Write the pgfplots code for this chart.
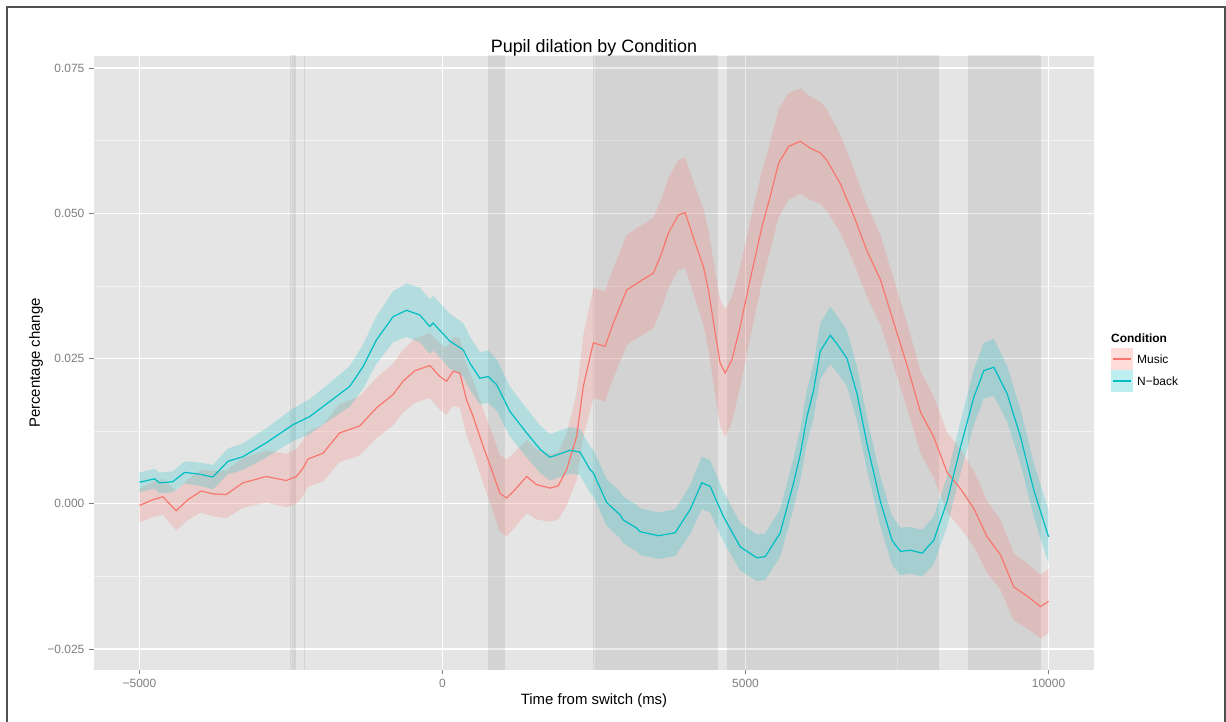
\documentclass[border=0pt]{standalone}
\usepackage{pgfplots}
\pgfplotsset{compat=1.18}
\usepackage{pgfplotstable}
\usepackage{fontspec}
\setmainfont{Liberation Sans}
\definecolor{musicc}{HTML}{F8766D}
\definecolor{nbackc}{HTML}{00BFC4}
\definecolor{gray90}{HTML}{E5E5E5}
\definecolor{gray95}{HTML}{F2F2F2}
\definecolor{gray50}{HTML}{7F7F7F}
\definecolor{framec}{HTML}{505050}

% mean lines
\pgfplotstableread{
t m
-5000 -0.0003
-4780 0.0007
-4615 0.0012
-4394 -0.0012
-4202 0.0007
-3981 0.0022
-3789 0.0017
-3568 0.0016
-3293 0.0036
-2907 0.0047
-2577 0.0040
-2411 0.0047
-2302 0.0061
-2220 0.0077
-1972 0.0087
-1696 0.0122
-1366 0.0134
-1090 0.0165
-815 0.0188
-650 0.0211
-457 0.0229
-209 0.0238
-44 0.0219
67 0.0211
176 0.0228
286 0.0225
397 0.0179
506 0.0150
671 0.0099
810 0.0059
947 0.0018
1058 0.0010
1195 0.0024
1388 0.0047
1553 0.0033
1773 0.0027
1910 0.0031
2049 0.0059
2214 0.0116
2323 0.0202
2489 0.0277
2682 0.0271
2819 0.0311
3040 0.0368
3260 0.0383
3480 0.0397
3618 0.0432
3727 0.0466
3893 0.0497
4004 0.0501
4169 0.0449
4306 0.0408
4388 0.0368
4499 0.0294
4582 0.0242
4664 0.0225
4775 0.0248
4912 0.0305
5077 0.0386
5271 0.0477
5408 0.0529
5545 0.0586
5710 0.0615
5903 0.0624
6068 0.0612
6234 0.0604
6344 0.0591
6564 0.0551
6785 0.0496
7005 0.0435
7225 0.0386
7445 0.0312
7666 0.0238
7886 0.0158
8105 0.0115
8326 0.0054
8546 0.0026
8766 -0.0008
8987 -0.0057
9207 -0.0088
9425 -0.0143
9648 -0.0159
9868 -0.0177
10000 -0.0168
}\music

\pgfplotstableread{
t m
-5000 0.0037
-4752 0.0043
-4670 0.0036
-4450 0.0038
-4257 0.0054
-4009 0.0051
-3789 0.0046
-3541 0.0073
-3293 0.0081
-2907 0.0105
-2467 0.0136
-2192 0.0150
-1861 0.0176
-1531 0.0202
-1311 0.0236
-1090 0.0282
-815 0.0322
-594 0.0333
-374 0.0325
-209 0.0305
-155 0.0311
121 0.0280
342 0.0265
452 0.0242
617 0.0216
754 0.0219
893 0.0205
1112 0.0159
1388 0.0122
1608 0.0094
1773 0.0080
1938 0.0086
2103 0.0092
2269 0.0089
2434 0.0059
2489 0.0053
2710 0.0002
2930 -0.0019
2984 -0.0028
3205 -0.0042
3260 -0.0048
3563 -0.0055
3838 -0.0050
4086 -0.0010
4279 0.0036
4416 0.0030
4636 -0.0022
4912 -0.0074
5188 -0.0093
5325 -0.0091
5573 -0.0050
5793 0.0036
5903 0.0085
6014 0.0150
6123 0.0195
6234 0.0263
6399 0.0290
6510 0.0275
6675 0.0250
6840 0.0189
7005 0.0103
7225 0.0004
7418 -0.0063
7555 -0.0082
7720 -0.0080
7914 -0.0085
8105 -0.0063
8326 0.0004
8546 0.0097
8766 0.0183
8931 0.0229
9097 0.0235
9318 0.0189
9538 0.0115
9758 0.0023
10000 -0.0057
}\nback

% ribbons: upper bound forward, then lower bound backward
\pgfplotstableread{
t v
-5000 0.0026
-4780 0.0037
-4615 0.0043
-4394 0.0022
-4202 0.0042
-3981 0.0059
-3789 0.0056
-3568 0.0057
-3293 0.0079
-2907 0.0092
-2577 0.0086
-2411 0.0094
-2302 0.0108
-2220 0.0125
-1972 0.0136
-1696 0.0172
-1366 0.0185
-1090 0.0217
-815 0.0241
-650 0.0265
-457 0.0284
-209 0.0294
-44 0.0276
67 0.0269
176 0.0287
286 0.0285
397 0.0240
506 0.0212
671 0.0163
810 0.0124
947 0.0084
1058 0.0076
1195 0.0089
1388 0.0110
1553 0.0093
1773 0.0085
1910 0.0089
2049 0.0121
2214 0.0191
2323 0.0290
2489 0.0372
2682 0.0366
2819 0.0406
3040 0.0463
3260 0.0478
3480 0.0492
3618 0.0527
3727 0.0561
3893 0.0592
4004 0.0596
4169 0.0546
4306 0.0508
4388 0.0471
4499 0.0400
4582 0.0351
4664 0.0335
4775 0.0356
4912 0.0409
5077 0.0486
5271 0.0573
5408 0.0623
5545 0.0679
5710 0.0707
5903 0.0715
6068 0.0701
6234 0.0692
6344 0.0678
6564 0.0635
6785 0.0577
7005 0.0514
7225 0.0463
7445 0.0387
7666 0.0311
7886 0.0229
8105 0.0185
8326 0.0123
8546 0.0094
8766 0.0057
8987 0.0005
9207 -0.0028
9425 -0.0085
9648 -0.0103
9868 -0.0122
10000 -0.0113
10000 -0.0223
9868 -0.0232
9648 -0.0215
9425 -0.0201
9207 -0.0148
8987 -0.0119
8766 -0.0073
8546 -0.0042
8326 -0.0015
8105 0.0045
7886 0.0087
7666 0.0165
7445 0.0237
7225 0.0309
7005 0.0356
6785 0.0415
6564 0.0467
6344 0.0504
6234 0.0516
6068 0.0523
5903 0.0533
5710 0.0523
5545 0.0493
5408 0.0435
5271 0.0381
5077 0.0286
4912 0.0201
4775 0.0140
4664 0.0115
4582 0.0133
4499 0.0188
4388 0.0265
4306 0.0308
4169 0.0352
4004 0.0406
3893 0.0402
3727 0.0371
3618 0.0337
3480 0.0302
3260 0.0288
3040 0.0273
2819 0.0216
2682 0.0176
2489 0.0182
2323 0.0114
2214 0.0041
2049 -0.0003
1910 -0.0027
1773 -0.0031
1553 -0.0027
1388 -0.0016
1195 -0.0041
1058 -0.0056
947 -0.0048
810 -0.0006
671 0.0035
506 0.0088
397 0.0118
286 0.0165
176 0.0169
67 0.0153
-44 0.0162
-209 0.0182
-457 0.0174
-650 0.0157
-815 0.0135
-1090 0.0113
-1366 0.0083
-1696 0.0072
-1972 0.0038
-2220 0.0029
-2302 0.0014
-2411 0.0000
-2577 -0.0006
-2907 0.0002
-3293 -0.0007
-3568 -0.0025
-3789 -0.0022
-3981 -0.0015
-4202 -0.0028
-4394 -0.0046
-4615 -0.0019
-4780 -0.0023
-5000 -0.0032
}\musicrib

\pgfplotstableread{
t v
-5000 0.0054
-4752 0.0060
-4670 0.0054
-4450 0.0056
-4257 0.0073
-4009 0.0071
-3789 0.0067
-3541 0.0095
-3293 0.0104
-2907 0.0130
-2467 0.0164
-2192 0.0180
-1861 0.0208
-1531 0.0237
-1311 0.0274
-1090 0.0323
-815 0.0366
-594 0.0379
-374 0.0372
-209 0.0352
-155 0.0358
121 0.0327
342 0.0311
452 0.0288
617 0.0261
754 0.0264
893 0.0249
1112 0.0202
1388 0.0164
1608 0.0135
1773 0.0120
1938 0.0126
2103 0.0132
2269 0.0129
2434 0.0099
2489 0.0093
2710 0.0042
2930 0.0021
2984 0.0012
3205 -0.0002
3260 -0.0008
3563 -0.0015
3838 -0.0010
4086 0.0032
4279 0.0081
4416 0.0075
4636 0.0021
4912 -0.0033
5188 -0.0053
5325 -0.0051
5573 -0.0009
5793 0.0079
5903 0.0130
6014 0.0196
6123 0.0242
6234 0.0311
6399 0.0339
6510 0.0324
6675 0.0298
6840 0.0236
7005 0.0148
7225 0.0047
7418 -0.0021
7555 -0.0041
7720 -0.0040
7914 -0.0045
8105 -0.0022
8326 0.0047
8546 0.0142
8766 0.0230
8931 0.0277
9097 0.0284
9318 0.0237
9538 0.0162
9758 0.0069
10000 -0.0011
10000 -0.0103
9758 -0.0023
9538 0.0068
9318 0.0141
9097 0.0186
8931 0.0181
8766 0.0136
8546 0.0052
8326 -0.0039
8105 -0.0104
7914 -0.0125
7720 -0.0120
7555 -0.0123
7418 -0.0105
7225 -0.0039
7005 0.0058
6840 0.0142
6675 0.0202
6510 0.0226
6399 0.0241
6234 0.0215
6123 0.0148
6014 0.0104
5903 0.0040
5793 -0.0007
5573 -0.0091
5325 -0.0131
5188 -0.0133
4912 -0.0115
4636 -0.0065
4416 -0.0015
4279 -0.0009
4086 -0.0052
3838 -0.0090
3563 -0.0095
3260 -0.0088
3205 -0.0082
2984 -0.0068
2930 -0.0059
2710 -0.0038
2489 0.0013
2434 0.0019
2269 0.0049
2103 0.0052
1938 0.0046
1773 0.0040
1608 0.0053
1388 0.0080
1112 0.0116
893 0.0161
754 0.0174
617 0.0171
452 0.0196
342 0.0219
121 0.0233
-155 0.0264
-209 0.0258
-374 0.0278
-594 0.0287
-815 0.0278
-1090 0.0241
-1311 0.0198
-1531 0.0167
-1861 0.0144
-2192 0.0120
-2467 0.0108
-2907 0.0080
-3293 0.0058
-3541 0.0051
-3789 0.0025
-4009 0.0031
-4257 0.0035
-4450 0.0020
-4670 0.0018
-4752 0.0026
-5000 0.0020
}\nbackrib

\begin{document}
\begin{tikzpicture}
\fill[white] (0bp,0bp) rectangle (1226bp,722bp);
\useasboundingbox (0bp,0bp) rectangle (1226bp,722bp);
\draw[framec, line width=2bp] (7bp,0bp) -- (7bp,715bp) -- (1225bp,715bp) -- (1225bp,0bp);
\begin{axis}[
  at={(94bp,52bp)}, anchor=south west,
  scale only axis, width=1000bp, height=614bp,
  xmin=-5750, xmax=10750, ymin=-0.02861, ymax=0.07707,
  scaled x ticks=false, scaled y ticks=false,
  axis background/.style={fill=gray90},
  axis line style={draw=none},
  tick align=outside, tick pos=left,
  major tick length=4.5bp, minor tick length=0pt,
  tick style={gray50, line width=1bp},
  xtick={-5000,0,5000,10000},
  xticklabels={−5000,0,5000,10000},
  ytick={-0.025,0,0.025,0.05,0.075},
  yticklabels={−0.025,0.000,0.025,0.050,0.075},
  minor xtick={-2500,2500,7500},
  minor ytick={-0.0125,0.0125,0.0375,0.0625},
  grid=both,
  major grid style={white, line width=1.1bp},
  minor grid style={gray95, line width=0.6bp},
  ticklabel style={font=\fontsize{12}{12}\selectfont, text=gray50},
  yticklabel style={anchor=east, inner sep=0pt, xshift=-5bp},
  xticklabel style={anchor=north, inner sep=0pt, yshift=-4.5bp},
  title={Pupil dilation by Condition},
  title style={font=\fontsize{18}{18}\selectfont, at={(axis description cs:0.5,1)}, anchor=base, yshift=-2bp},
  xlabel={Time from switch (ms)},
  xlabel style={font=\fontsize{15}{15}\selectfont, at={(axis description cs:0.5,0)}, anchor=base, yshift=-34.5bp},
  ylabel={Percentage change},
  ylabel style={font=\fontsize{15}{15}\selectfont, at={(axis description cs:-0.058,0.5)}, anchor=center},
]
% shaded clusters
\addplot[draw=none, fill=black, fill opacity=0.08] coordinates {(-2522,-0.03) (-2522,0.08) (-2423,0.08) (-2423,-0.03)};
\addplot[draw=none, fill=black, fill opacity=0.08] coordinates {(-2291,-0.03) (-2291,0.08) (-2265,0.08) (-2265,-0.03)};
\addplot[draw=none, fill=black, fill opacity=0.08] coordinates {(745,-0.03) (745,0.08) (1027,0.08) (1027,-0.03)};
\addplot[draw=none, fill=black, fill opacity=0.08] coordinates {(2478,-0.03) (2478,0.08) (4543,0.08) (4543,-0.03)};
\addplot[draw=none, fill=black, fill opacity=0.08] coordinates {(4691,-0.03) (4691,0.08) (8193,0.08) (8193,-0.03)};
\addplot[draw=none, fill=black, fill opacity=0.08] coordinates {(8672,-0.03) (8672,0.08) (9878,0.08) (9878,-0.03)};
% ribbons
\addplot[draw=none, fill=musicc, fill opacity=0.22] table[x=t, y=v] {\musicrib};
\addplot[draw=none, fill=nbackc, fill opacity=0.22] table[x=t, y=v] {\nbackrib};
% lines
\addplot[musicc, line width=1.2bp, mark=none] table[x=t, y=m] {\music};
\addplot[nbackc, line width=1.2bp, mark=none] table[x=t, y=m] {\nback};
\end{axis}
% legend
\node[anchor=west, inner sep=0pt, font=\fontsize{12}{12}\selectfont\bfseries] at (1111bp,384bp) {Condition};
\fill[musicc, fill opacity=0.25] (1111bp,352bp) rectangle (1133bp,374bp);
\draw[musicc, line width=1.2bp] (1113bp,363bp) -- (1131bp,363bp);
\fill[nbackc, fill opacity=0.25] (1111bp,330bp) rectangle (1133bp,352bp);
\draw[nbackc, line width=1.2bp] (1113bp,341bp) -- (1131bp,341bp);
\node[anchor=west, inner sep=0pt, font=\fontsize{12}{12}\selectfont] at (1137bp,363bp) {Music};
\node[anchor=west, inner sep=0pt, font=\fontsize{12}{12}\selectfont] at (1137bp,341bp) {N−back};
\end{tikzpicture}
\end{document}
